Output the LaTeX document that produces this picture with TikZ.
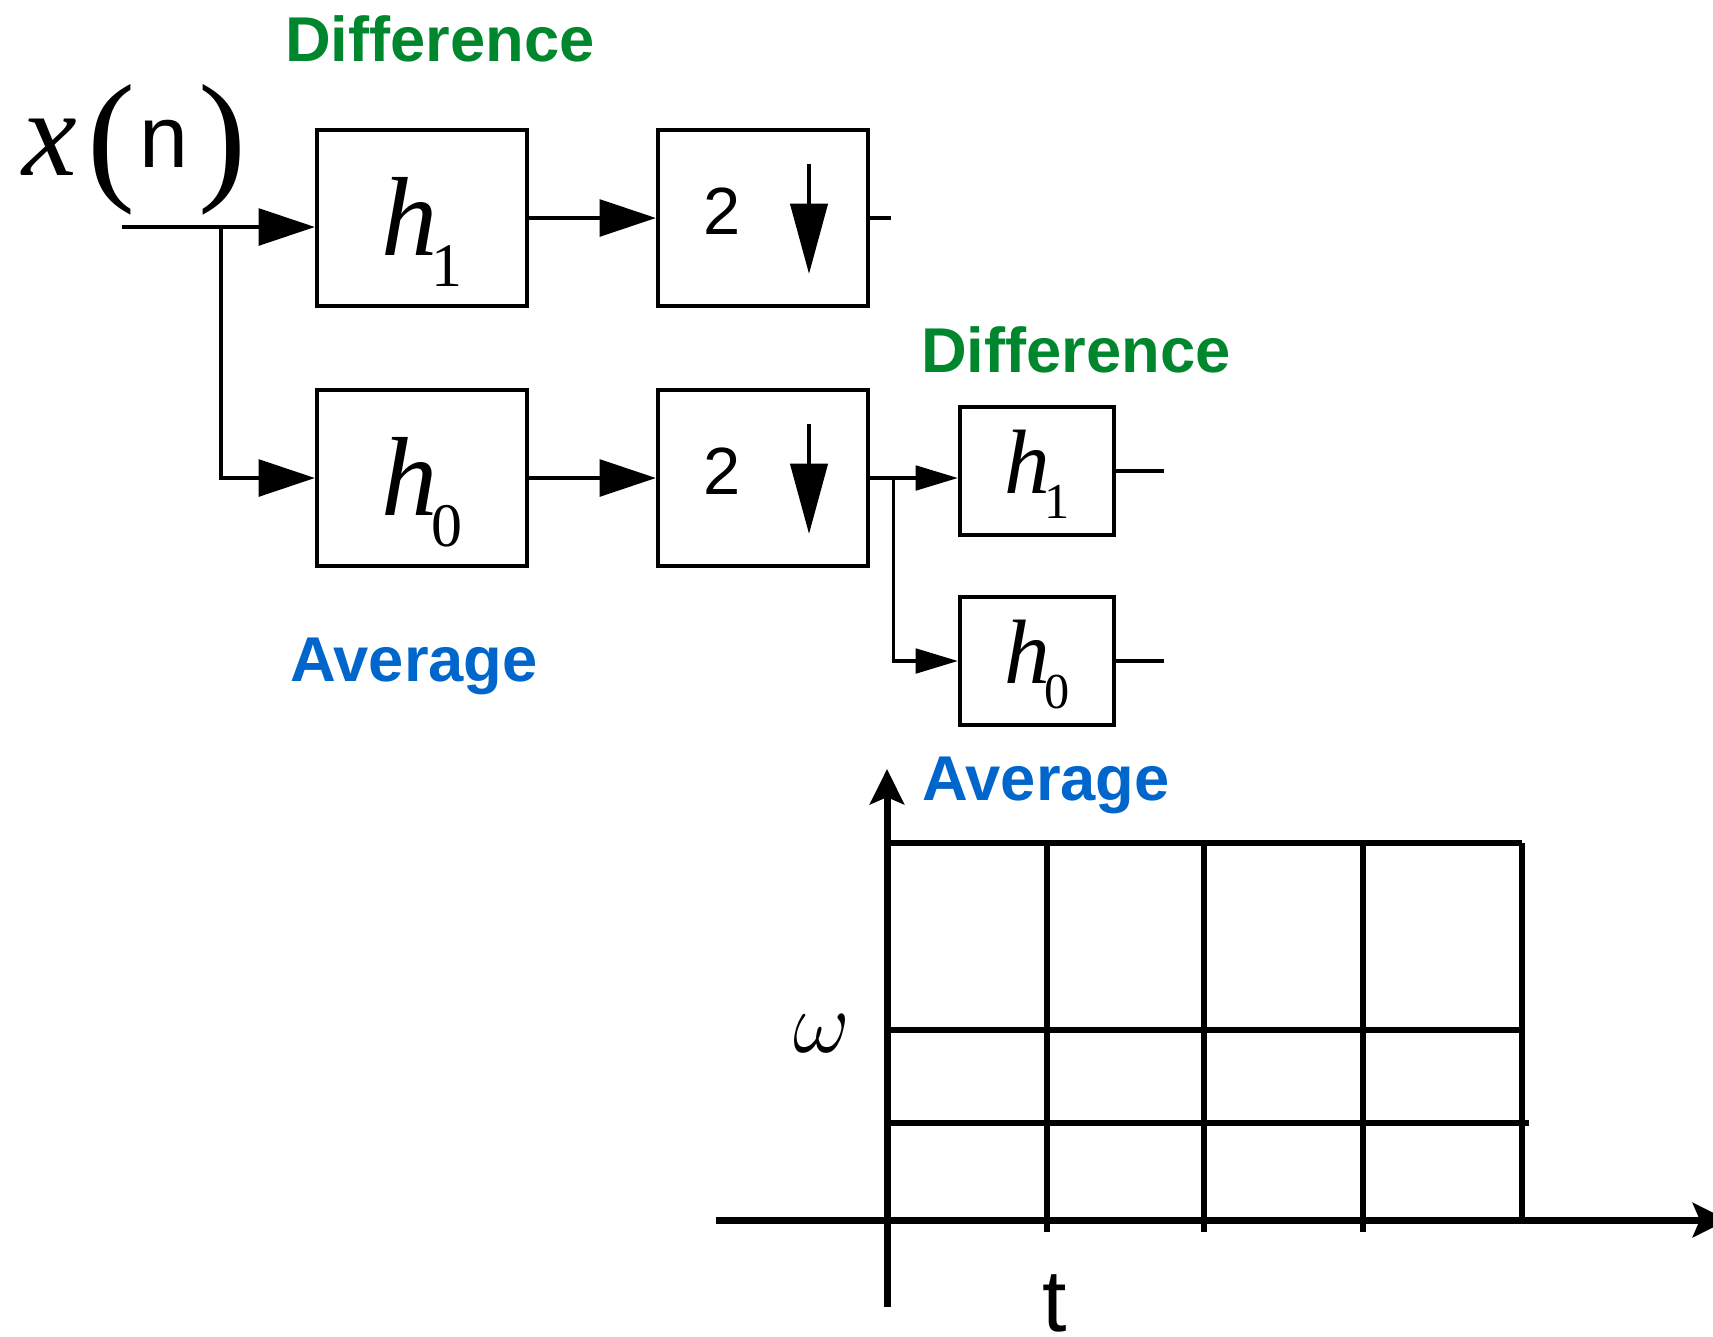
\documentclass[tikz,border=0pt]{standalone}
\usepackage{fontspec}
\setmainfont{Liberation Serif}
\setsansfont{Liberation Sans}
\usetikzlibrary{arrows.meta,calc}
\definecolor{diffgreen}{RGB}{0,135,45}
\definecolor{avgblue}{RGB}{0,102,204}
\newcommand{\hsub}[1]{\textit{h}\kern-0.06em\raisebox{-0.27em}{\scalebox{0.55}{#1}}}

\begin{document}
\begin{tikzpicture}[x=0.01cm, y=-0.01cm,
    box/.style={draw, line width=1.2pt, minimum width=2.1cm, minimum height=1.76cm, inner sep=0pt,
      text height=21.6pt, text depth=0pt, font=\fontsize{32}{32}\selectfont},
    smallbox/.style={box, minimum width=1.54cm, minimum height=1.28cm, text height=13pt,
      font=\fontsize{26}{26}\selectfont},
    wire/.style={line width=0.9pt},
    arr/.style={wire, -{Triangle[length=16pt, width=10.5pt]}},
    smallarr/.style={wire, -{Triangle[length=12pt, width=7pt]}},
    tag/.style={font=\sffamily\bfseries\fontsize{18}{18}\selectfont, anchor=base},
    axis/.style={line width=2pt, -{Stealth[length=10pt, width=9.7pt, inset=2pt]}},
    grid/.style={line width=1.5pt}]
  \useasboundingbox (0,0) rectangle (1713,1336);

  \node[anchor=base west, inner sep=0pt] (xn) at (22,175) {\fontsize{35}{35}\selectfont\textit{x}\kern3pt\raisebox{-2.6pt}{\fontsize{41}{41}\selectfont(}\kern1pt\raisebox{2pt}{\sffamily\fontsize{25}{25}\selectfont n}\kern3pt\raisebox{-2.6pt}{\fontsize{41}{41}\selectfont)}};

  \node[box] (h1) at (422,218) {\hsub{1}};
  \node[box] (h0) at (422,478) {\hsub{0}};
  \node[box] (d1) at (763,218) {};
  \node[box] (d0) at (763,478) {};
  \node[smallbox] (g1) at (1037,471) {\hsub{1}};
  \node[smallbox] (g0) at (1037,661) {\hsub{0}};
  \foreach \b in {d1,d0} {
    \node[font=\sffamily\fontsize{19}{19}\selectfont] (\b-num) at ($(\b)+(-41,-7)$) {2};
    \draw[line width=1.3pt, -{Triangle[length=20pt, width=10.5pt]}] ($(\b)+(46,-54)$) -- ($(\b)+(46,56)$);
  }

  \coordinate (xin) at (122,227);
  \coordinate (split) at (221,227);
  \draw[arr] (xin) -- (xin -| h1.west);
  \draw[arr] (split) |- (h0.west);
  \draw[arr] (h1) -- (d1);
  \draw[arr] (h0) -- (d0);
  \draw[wire] (d1.east) -- ++(21,0);
  \coordinate (split2) at ($(d0.east)+(23,0)$);
  \draw[wire] (d0.east) -- (split2);
  \draw[smallarr] (split2) -- (split2 -| g1.west);
  \draw[smallarr] (split2) |- (g0.west);
  \draw[wire] (g1.east) -- ++(48,0);
  \draw[wire] (g0.east) -- ++(48,0);

  \node[tag, text=diffgreen] (diff1) at (440,61) {Difference};
  \node[tag, text=diffgreen] (diff2) at (1076,372) {Difference};
  \node[tag, text=avgblue] (avg1) at (414,681) {Average};
  \node[tag, text=avgblue] (avg2) at (1046,800) {Average};

  \draw[axis] (716,1220) -- (1728,1220);
  \draw[axis] (887,1307) -- (887,769);
  \draw[grid] (887,843) -- (1522,843);
  \draw[grid] (887,1030) -- (1522,1030);
  \draw[grid] (889,1123) -- (1529,1123);
  \foreach \x in {1047,1204,1363}
    \draw[grid] (\x,843) -- (\x,1232);
  \draw[grid] (1522,843) -- (1522,1220);
  \node (omega) at (822,1034) {\fontsize{27}{27}\selectfont$\omega$};
  \node[anchor=base] (tlab) at (1055,1331) {\sffamily\fontsize{25}{25}\selectfont t};
\end{tikzpicture}
\end{document}
